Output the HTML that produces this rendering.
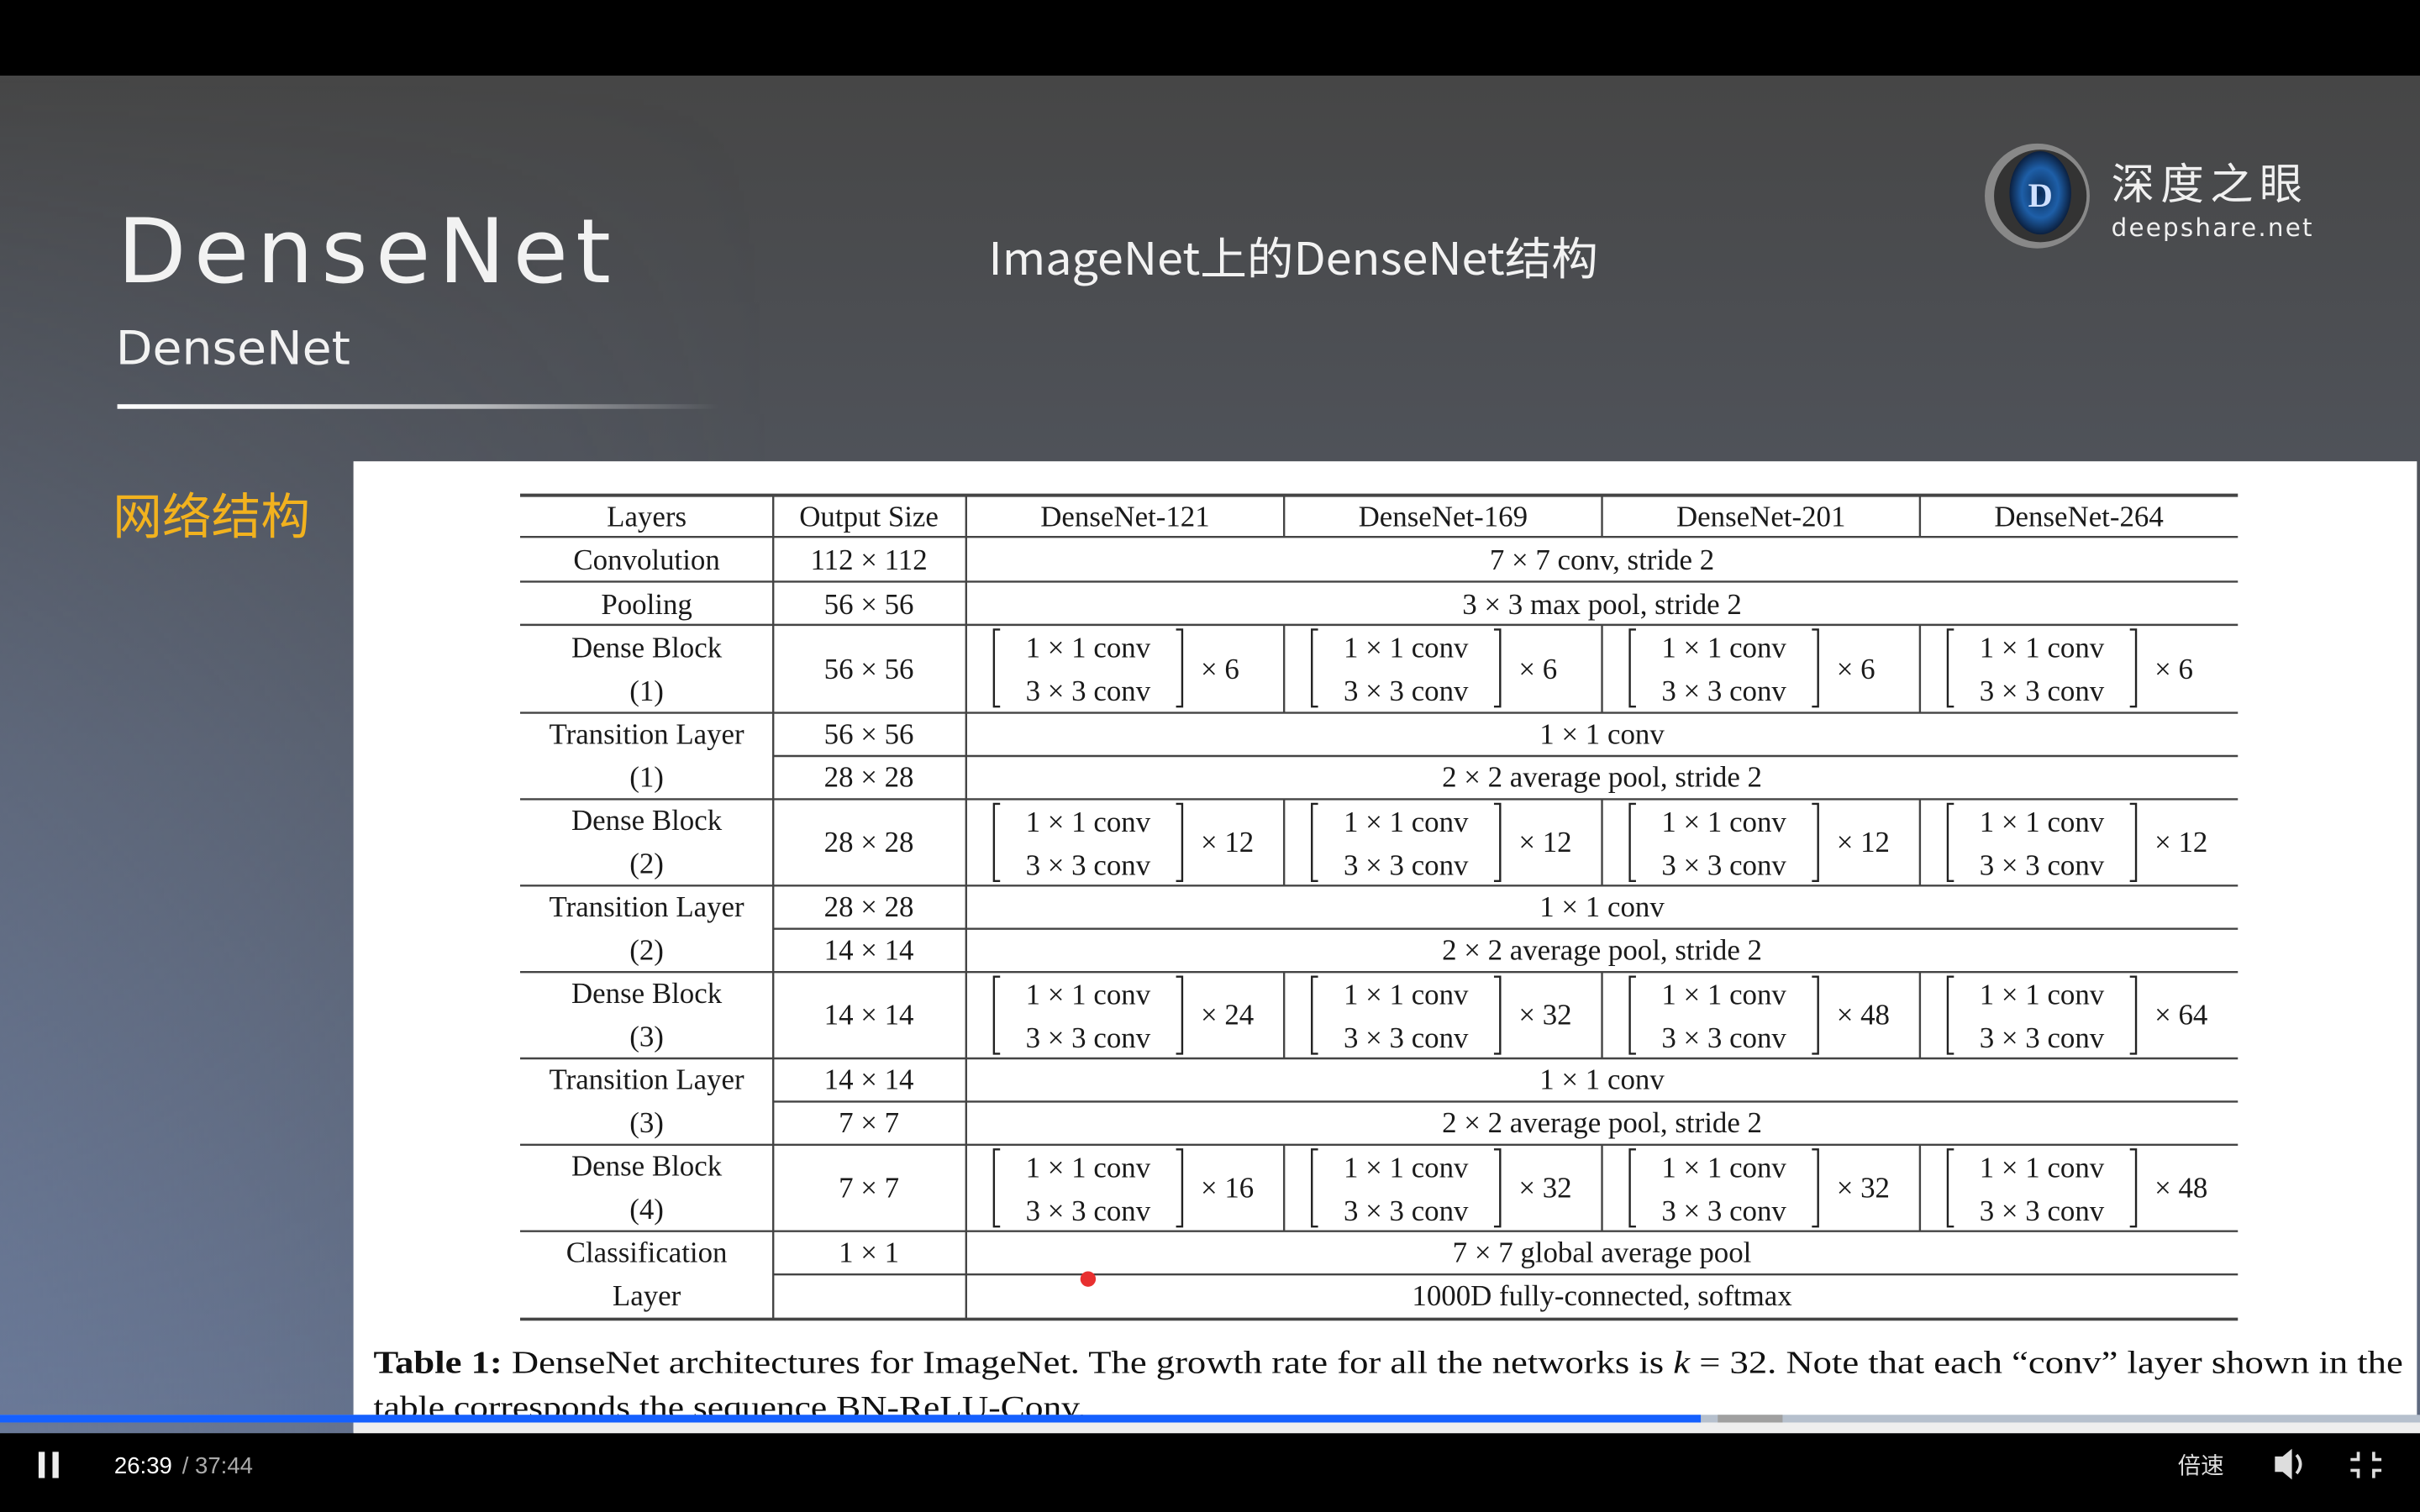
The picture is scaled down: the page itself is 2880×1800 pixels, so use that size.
<!DOCTYPE html>
<html><head><meta charset="utf-8"><style>
html,body{margin:0;padding:0;width:2880px;height:1800px;overflow:hidden;background:#000}
svg{display:block}
.t{font-family:"Liberation Serif",serif;font-size:19px;fill:#1a1a1a;text-anchor:middle}
.x{font-family:"Liberation Serif",serif;font-size:19px;fill:#1a1a1a}
</style></head><body>
<svg width="2880" height="1800" viewBox="0 0 1568 980" xmlns="http://www.w3.org/2000/svg">
<defs>
<linearGradient id="bg" x1="0" y1="0" x2="0" y2="1">
<stop offset="0" stop-color="#464646"/><stop offset="0.5" stop-color="#565c68"/><stop offset="1" stop-color="#5f6a80"/>
</linearGradient>
<linearGradient id="lf" x1="0" y1="0" x2="1" y2="0">
<stop offset="0" stop-color="#7284a8" stop-opacity="0.6"/><stop offset="1" stop-color="#7284a8" stop-opacity="0"/>
</linearGradient>
<linearGradient id="lfv" x1="0" y1="0" x2="0" y2="1">
<stop offset="0" stop-color="#fff" stop-opacity="0"/><stop offset="1" stop-color="#fff" stop-opacity="1"/>
</linearGradient>
<mask id="m"><rect x="0" y="49" width="1568" height="880" fill="url(#lfv)"/></mask>
<linearGradient id="ln" x1="0" y1="0" x2="1" y2="0">
<stop offset="0" stop-color="#fff"/><stop offset="0.6" stop-color="#fff" stop-opacity="0.6"/><stop offset="1" stop-color="#fff" stop-opacity="0"/>
</linearGradient>
<radialGradient id="eye" cx="0.5" cy="0.5" r="0.5">
<stop offset="0" stop-color="#0a2a55"/><stop offset="0.6" stop-color="#1e5fa8"/><stop offset="1" stop-color="#0b2040"/>
</radialGradient>
</defs>
<rect width="1568" height="980" fill="#000"/>
<rect x="0" y="49" width="1568" height="880" fill="url(#bg)"/>
<rect x="0" y="49" width="500" height="880" fill="url(#lf)" mask="url(#m)"/>
<text x="76" y="183" font-family="DejaVu Sans,sans-serif" font-size="58" fill="#f2f2f2" letter-spacing="5">DenseNet</text>
<text x="75" y="236" font-family="DejaVu Sans,sans-serif" font-size="30" fill="#f2f2f2" textLength="152" lengthAdjust="spacingAndGlyphs">DenseNet</text>
<rect x="76" y="262" width="390" height="3" fill="url(#ln)"/>
<text x="838" y="178" text-anchor="middle" font-family="'Noto Sans CJK SC',sans-serif" font-size="29" fill="#f2f2f2" textLength="395" lengthAdjust="spacingAndGlyphs">ImageNet上的DenseNet结构</text>
<circle cx="1320" cy="127" r="34" fill="#888"/>
<circle cx="1322" cy="127" r="30" fill="#333"/>
<ellipse cx="1322" cy="125" rx="20" ry="27" fill="url(#eye)"/>
<text x="1322" y="134" text-anchor="middle" font-family="Liberation Serif,serif" font-size="22" font-weight="bold" fill="#cfe0ff">D</text>
<text x="1368" y="129" font-family="'Noto Sans CJK SC',sans-serif" font-size="28" fill="#f0f0f0" letter-spacing="4">深度之眼</text>
<text x="1368" y="153" font-family="DejaVu Sans,sans-serif" font-size="16" fill="#f0f0f0" letter-spacing="1.2">deepshare.net</text>
<text x="73" y="346" font-family="'Noto Sans CJK SC',sans-serif" font-size="32" fill="#f2b21e">网络结构</text>
<rect x="229" y="299" width="1337" height="629" fill="#fff"/>
<g stroke="#444" stroke-width="1.3" fill="none">
<line x1="337" y1="321" x2="1450" y2="321" stroke-width="2.2"/>
<line x1="337" y1="855" x2="1450" y2="855" stroke-width="2"/>
<line x1="337" y1="348" x2="1450" y2="348"/>
<line x1="337" y1="377" x2="1450" y2="377"/>
<line x1="337" y1="405" x2="1450" y2="405"/>
<line x1="337" y1="462" x2="1450" y2="462"/>
<line x1="501" y1="490" x2="1450" y2="490"/>
<line x1="337" y1="518" x2="1450" y2="518"/>
<line x1="337" y1="574" x2="1450" y2="574"/>
<line x1="501" y1="602" x2="1450" y2="602"/>
<line x1="337" y1="630" x2="1450" y2="630"/>
<line x1="337" y1="686" x2="1450" y2="686"/>
<line x1="501" y1="714" x2="1450" y2="714"/>
<line x1="337" y1="742" x2="1450" y2="742"/>
<line x1="337" y1="798" x2="1450" y2="798"/>
<line x1="501" y1="826" x2="1450" y2="826"/>
<line x1="501" y1="321" x2="501" y2="855"/>
<line x1="626" y1="321" x2="626" y2="855"/>
<line x1="832" y1="321" x2="832" y2="348"/><line x1="1038" y1="321" x2="1038" y2="348"/><line x1="1244" y1="321" x2="1244" y2="348"/>
<line x1="832" y1="405" x2="832" y2="462"/><line x1="1038" y1="405" x2="1038" y2="462"/><line x1="1244" y1="405" x2="1244" y2="462"/>
<line x1="832" y1="518" x2="832" y2="574"/><line x1="1038" y1="518" x2="1038" y2="574"/><line x1="1244" y1="518" x2="1244" y2="574"/>
<line x1="832" y1="630" x2="832" y2="686"/><line x1="1038" y1="630" x2="1038" y2="686"/><line x1="1244" y1="630" x2="1244" y2="686"/>
<line x1="832" y1="742" x2="832" y2="798"/><line x1="1038" y1="742" x2="1038" y2="798"/><line x1="1244" y1="742" x2="1244" y2="798"/>
</g>
<text class="t" x="419" y="341">Layers</text><text class="t" x="563" y="341">Output Size</text>
<text class="t" x="729" y="341">DenseNet-121</text><text class="t" x="935" y="341">DenseNet-169</text>
<text class="t" x="1141" y="341">DenseNet-201</text><text class="t" x="1347" y="341">DenseNet-264</text>
<text class="t" x="419" y="369">Convolution</text><text class="t" x="563" y="369">112 × 112</text><text class="t" x="1038" y="369">7 × 7 conv, stride 2</text>
<text class="t" x="419" y="398">Pooling</text><text class="t" x="563" y="398">56 × 56</text><text class="t" x="1038" y="398">3 × 3 max pool, stride 2</text>
<text class="t" x="419" y="426">Dense Block</text><text class="t" x="419" y="454">(1)</text><text class="t" x="563" y="440">56 × 56</text>
<text class="t" x="419" y="482">Transition Layer</text><text class="t" x="419" y="510">(1)</text><text class="t" x="563" y="482">56 × 56</text><text class="t" x="563" y="510">28 × 28</text>
<text class="t" x="1038" y="482">1 × 1 conv</text><text class="t" x="1038" y="510">2 × 2 average pool, stride 2</text>
<text class="t" x="419" y="538">Dense Block</text><text class="t" x="419" y="566">(2)</text><text class="t" x="563" y="552">28 × 28</text>
<text class="t" x="419" y="594">Transition Layer</text><text class="t" x="419" y="622">(2)</text><text class="t" x="563" y="594">28 × 28</text><text class="t" x="563" y="622">14 × 14</text>
<text class="t" x="1038" y="594">1 × 1 conv</text><text class="t" x="1038" y="622">2 × 2 average pool, stride 2</text>
<text class="t" x="419" y="650">Dense Block</text><text class="t" x="419" y="678">(3)</text><text class="t" x="563" y="664">14 × 14</text>
<text class="t" x="419" y="706">Transition Layer</text><text class="t" x="419" y="734">(3)</text><text class="t" x="563" y="706">14 × 14</text><text class="t" x="563" y="734">7 × 7</text>
<text class="t" x="1038" y="706">1 × 1 conv</text><text class="t" x="1038" y="734">2 × 2 average pool, stride 2</text>
<text class="t" x="419" y="762">Dense Block</text><text class="t" x="419" y="790">(4)</text><text class="t" x="563" y="776">7 × 7</text>
<text class="t" x="419" y="818">Classification</text><text class="t" x="419" y="846">Layer</text><text class="t" x="563" y="818">1 × 1</text>
<text class="t" x="1038" y="818">7 × 7 global average pool</text><text class="t" x="1038" y="846">1000D fully-connected, softmax</text>
<defs>
<g id="cell"><path d="M22 3H18V53H22M136 3H140V53H136" stroke="#222" stroke-width="1.3" fill="none"/>
<text class="t" x="79" y="21">1 × 1 conv</text><text class="t" x="79" y="49">3 × 3 conv</text></g>
</defs>
<use href="#cell" x="626" y="405"/><use href="#cell" x="832" y="405"/><use href="#cell" x="1038" y="405"/><use href="#cell" x="1244" y="405"/>
<use href="#cell" x="626" y="518"/><use href="#cell" x="832" y="518"/><use href="#cell" x="1038" y="518"/><use href="#cell" x="1244" y="518"/>
<use href="#cell" x="626" y="630"/><use href="#cell" x="832" y="630"/><use href="#cell" x="1038" y="630"/><use href="#cell" x="1244" y="630"/>
<use href="#cell" x="626" y="742"/><use href="#cell" x="832" y="742"/><use href="#cell" x="1038" y="742"/><use href="#cell" x="1244" y="742"/>
<text class="x" x="778" y="440">× 6</text><text class="x" x="984" y="440">× 6</text><text class="x" x="1190" y="440">× 6</text><text class="x" x="1396" y="440">× 6</text>
<text class="x" x="778" y="552">× 12</text><text class="x" x="984" y="552">× 12</text><text class="x" x="1190" y="552">× 12</text><text class="x" x="1396" y="552">× 12</text>
<text class="x" x="778" y="664">× 24</text><text class="x" x="984" y="664">× 32</text><text class="x" x="1190" y="664">× 48</text><text class="x" x="1396" y="664">× 64</text>
<text class="x" x="778" y="776">× 16</text><text class="x" x="984" y="776">× 32</text><text class="x" x="1190" y="776">× 32</text><text class="x" x="1396" y="776">× 48</text>
<circle cx="705" cy="829" r="5" fill="#e83030"/>
<text x="242" y="890" font-family="Liberation Serif,serif" font-size="21" fill="#111" textLength="1315" lengthAdjust="spacingAndGlyphs"><tspan font-weight="bold">Table 1:</tspan> DenseNet architectures for ImageNet. The growth rate for all the networks is <tspan font-style="italic">k</tspan> = 32. Note that each “conv” layer shown in the</text>
<text x="242" y="919" font-family="Liberation Serif,serif" font-size="21" fill="#111" textLength="462" lengthAdjust="spacingAndGlyphs">table corresponds the sequence BN-ReLU-Conv.</text>
<rect x="229" y="920" width="1339" height="9" fill="#eeeeee"/>
<rect x="0" y="917" width="1568" height="5" fill="#b6c0cd"/>
<rect x="1113" y="917" width="42" height="5" fill="#a0a0a0"/>
<rect x="0" y="917" width="1102" height="5" fill="#1560ff"/>
<rect x="0" y="929" width="1568" height="51" fill="#000"/>
<rect x="25" y="941" width="4" height="17" fill="#eee"/><rect x="34" y="941" width="4" height="17" fill="#eee"/>
<text x="74" y="955" font-family="Liberation Sans,sans-serif" font-size="15" fill="#fff">26:39</text>
<text x="118" y="955" font-family="Liberation Sans,sans-serif" font-size="15" fill="#aaa">/ 37:44</text>
<text x="1411" y="955" font-family="'Noto Sans CJK SC',sans-serif" font-size="15" fill="#ddd">倍速</text>
<path d="M1474 944h5l6-5v20l-6-5h-5z" fill="#ddd"/><path d="M1488 943q5 6 0 12" stroke="#ddd" stroke-width="2" fill="none"/>
<path d="M1523 946h5v-5M1538 941v5h5M1523 953h5v5M1543 953h-5v5" stroke="#ddd" stroke-width="2" fill="none"/>
</svg>
</body></html>
